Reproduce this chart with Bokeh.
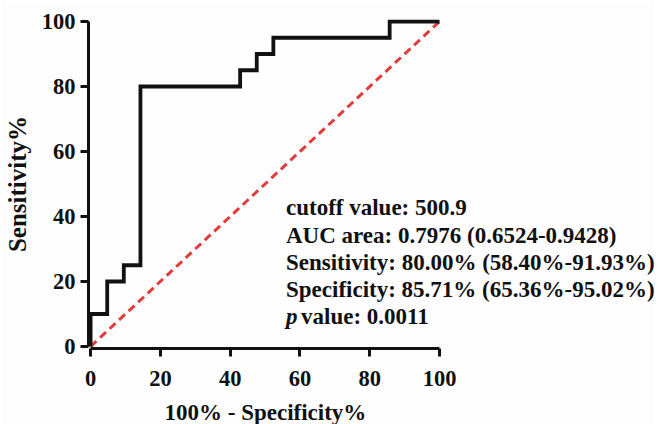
from bokeh.plotting import figure
from bokeh.models import Range1d, Label, FixedTicker, Title
from bokeh.embed import file_html
from bokeh.resources import INLINE

# ROC step curve (100% - Specificity%, Sensitivity%)
fpr = [0, 0, 4.76, 4.76, 9.52, 9.52, 14.29, 14.29, 42.86, 42.86, 47.62, 47.62, 52.38, 52.38, 85.71, 85.71, 100]
tpr = [0, 10, 10, 20, 20, 25, 25, 80, 80, 85, 85, 90, 90, 95, 95, 100, 100]
ref_x = [0, 100]
ref_y = [0, 100]
ticks = [0, 20, 40, 60, 80, 100]
x_title = "100% - Specificity%"
y_title = "Sensitivity%"
stat_lines = [
    "cutoff value: 500.9",
    "AUC area: 0.7976 (0.6524-0.9428)",
    "Sensitivity: 80.00% (58.40%-91.93%)",
    "Specificity: 85.71% (65.36%-95.02%)",
]
p_label = "p"
p_rest = "value: 0.0011"

FONT = "Liberation Serif"
INK = "#111111"

p = figure(frame_width=567, frame_height=329,
           min_border_left=88, min_border_top=19, min_border_right=0, min_border_bottom=30,
           x_range=Range1d(-0.6, 161.9), y_range=Range1d(-0.62, 100.62),
           output_backend="svg", toolbar_location=None,
           background_fill_color="#fdfdfd", border_fill_color="#fdfdfd")
p.outline_line_color = None
p.grid.visible = False

p.line(ref_x, ref_y, line_color="#e23b3b", line_width=3, line_dash="8 5")
p.line(fpr, tpr, line_color=INK, line_width=3.8, line_join="miter")

for ax in (p.xaxis[0], p.yaxis[0]):
    ax.ticker = FixedTicker(ticks=ticks)
    ax.bounds = (0, 100)
    ax.axis_line_width = 3
    ax.axis_line_color = INK
    ax.major_tick_line_width = 3
    ax.major_tick_line_color = INK
    ax.major_tick_out = 8
    ax.major_tick_in = 0
    ax.minor_tick_line_color = None
    ax.major_label_text_font = FONT
    ax.major_label_text_font_style = "bold"
    ax.major_label_text_font_size = "22.5px"
    ax.major_label_text_color = INK
    ax.axis_label_text_font = FONT
    ax.axis_label_text_font_style = "bold"
    ax.axis_label_text_color = INK

p.yaxis.axis_label = y_title
p.yaxis.axis_label_text_font_size = "25px"
p.xaxis.major_label_standoff = 14
p.yaxis.major_label_standoff = 5
p.yaxis.axis_label_standoff = 8

p.add_layout(Title(text=x_title, align="left", offset=76, text_font=FONT,
                   text_font_style="bold", text_font_size="23px", text_color=INK,
                   standoff=18), "below")

y0 = 42.7
dy = 8.4
for i, t in enumerate(stat_lines):
    p.add_layout(Label(x=56, y=y0 - i * dy, text=t, text_font=FONT, text_font_style="bold",
                       text_font_size="23px", text_color=INK, text_baseline="alphabetic"))
yp = y0 - len(stat_lines) * dy
p.add_layout(Label(x=56, y=yp, text=p_label, text_font=FONT, text_font_style="bold italic",
                   text_font_size="23px", text_color=INK, text_baseline="alphabetic"))
p.add_layout(Label(x=56, y=yp, x_offset=15, text=p_rest, text_font=FONT, text_font_style="bold",
                   text_font_size="23px", text_color=INK, text_baseline="alphabetic"))

open("out.html", "w").write(file_html(p, INLINE))
